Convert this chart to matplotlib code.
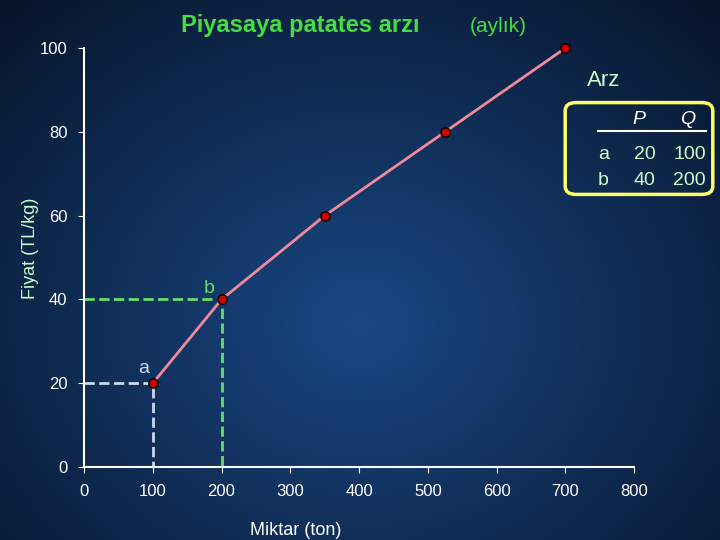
import numpy as np
import matplotlib.pyplot as plt
from matplotlib.patches import FancyBboxPatch

plt.rcParams['font.family'] = ['Liberation Sans', 'DejaVu Sans']

# supply data
quantity = [100, 200, 350, 525, 700]
price = [20, 40, 60, 80, 100]
table_rows = [("a", "20", "100"), ("b", "40", "200")]

fig = plt.figure(figsize=(7.2, 5.4), dpi=100)

# background gradient
bg = fig.add_axes([0, 0, 1, 1], zorder=0)
yy, xx = np.mgrid[0:1:200j, 0:1:200j]
d = np.sqrt(((xx - 0.5) / 0.8) ** 2 + ((yy - 0.4) / 0.9) ** 2)
t = np.clip(1 - d, 0, 1)
c0 = np.array([0.02, 0.06, 0.13])
c1 = np.array([0.10, 0.28, 0.52])
img = c0 + (c1 - c0) * t[..., None]
bg.imshow(img, extent=[0, 1, 0, 1], aspect='auto', origin='lower')
bg.axis('off')

ax = fig.add_axes([0.1167, 0.135, 0.764, 0.776], zorder=1)
ax.patch.set_alpha(0)
ax.set_xlim(0, 800)
ax.set_ylim(0, 100)
ax.set_xticks(range(0, 801, 100))
ax.set_yticks(range(0, 101, 20))
for s in ['top', 'right']:
    ax.spines[s].set_visible(False)
for s in ['left', 'bottom']:
    ax.spines[s].set_color('white')
    ax.spines[s].set_linewidth(1.5)
ax.tick_params(colors='white', labelsize=12, direction='out', length=4, pad=8)

ax.plot(quantity, price, color='#f08a9a', lw=2, zorder=3, clip_on=False)
ax.scatter(quantity, price, s=45, color='#cc0000', edgecolor='black', zorder=4, clip_on=False)

# dashed guides
ax.plot([0, quantity[0], quantity[0]], [price[0], price[0], 0], ls='--', color='#ccd8f0', lw=2)
ax.plot([0, quantity[1], quantity[1]], [price[1], price[1], 0], ls='--', color='#66dd66', lw=2)
ax.text(quantity[0] - 5, price[0] + 2.5, "a", color='#ccd8f0', fontsize=14, ha='right')
ax.text(quantity[1] - 10, price[1] + 1.5, "b", color='#66dd66', fontsize=14, ha='right')

fig.text(0.41, 0.01, "Miktar (ton)", color='white', fontsize=13, ha='center')
fig.text(0.043, 0.54, "Fiyat (TL/kg)", color='#ccffcc', fontsize=13, rotation=90, ha='center', va='center')

fig.text(0.252, 0.94, "Piyasaya patates arzı", color='#44dd44', fontsize=17, fontweight='bold')
fig.text(0.652, 0.94, "(aylık)", color='#44dd44', fontsize=15)
fig.text(0.815, 0.84, "Arz", color='#ccffcc', fontsize=16)

# table box
box = FancyBboxPatch((0.79, 0.645), 0.195, 0.16, boxstyle="round,pad=0.005,rounding_size=0.015",
                     transform=fig.transFigure, fill=False, edgecolor='#ffff66', lw=2.5, zorder=5)
fig.add_artist(box)
fig.text(0.887, 0.77, "P", color='white', fontsize=14, style='italic', ha='center')
fig.text(0.955, 0.77, "Q", color='white', fontsize=14, style='italic', ha='center')
fig.add_artist(plt.Line2D([0.83, 0.98], [0.757, 0.757], transform=fig.transFigure, color='white', lw=1.5))
for i, (lab, p, q) in enumerate(table_rows):
    y = 0.705 - i * 0.047
    fig.text(0.838, y, lab, color='#ccffcc', fontsize=14, ha='center')
    fig.text(0.895, y, p, color='#ccffcc', fontsize=14, ha='center')
    fig.text(0.958, y, q, color='#ccffcc', fontsize=14, ha='center')

fig.savefig("out.png", dpi=100)
